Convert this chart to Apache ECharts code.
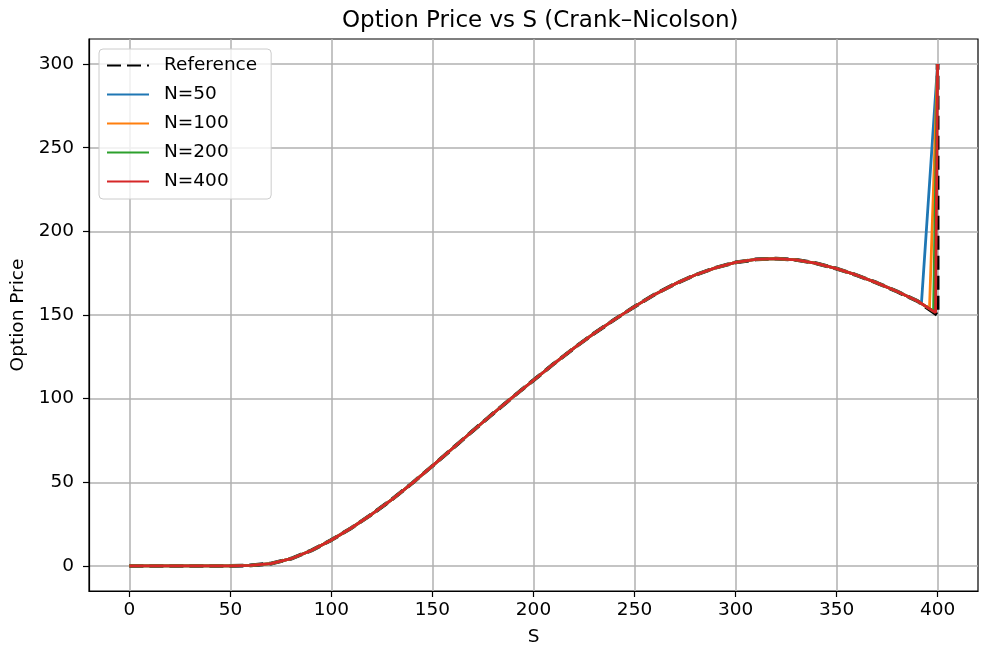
<!DOCTYPE html>
<html>
<head>
<meta charset="utf-8">
<title>Option Price vs S</title>
<script src="https://cdn.jsdelivr.net/npm/echarts@6/dist/echarts.min.js"></script>
<style>
  html, body { margin: 0; padding: 0; background: #fff; }
  #chart { width: 987px; height: 656px; }
</style>
</head>
<body>
<div id="chart"></div>
<script>
// S grid and prices (shared smooth part of all curves)
var sGrid = [0, 10, 20, 30, 40, 50, 60, 70, 80, 90, 100, 110, 120, 130, 140, 150, 160, 170, 180, 190, 200,
  210, 220, 230, 240, 250, 260, 270, 280, 290, 300, 310, 320, 330, 340, 350, 360, 370, 380, 390]
var curvePrice = [0, 0, 0, 0, 0, 0, 0.3, 1.4, 4.3, 9.2, 15.5, 22.8, 30.9, 39.8, 49.5, 59.8, 70.3, 80.8, 91.1, 101.2, 111,
  120.8, 130.2, 139.0, 147.2, 155.0, 162.3, 168.6, 173.9, 178.2, 181.4, 183.2, 183.7, 182.9, 180.9, 177.7, 173.8, 169.2, 164.0, 158.4]

// last grid points of each run (the jump at S = 400)
var refTailS = [400, 400]
var refTailV = [150, 300]
var n50TailS = [392, 400]
var n50TailV = [156.8, 300]
var n100TailS = [396, 400]
var n100TailV = [153.8, 300]
var n200TailS = [398, 400]
var n200TailV = [152.2, 300]
var n400TailS = [399, 400]
var n400TailV = [151.4, 300]

var xTicks = [0, 50, 100, 150, 200, 250, 300, 350, 400]
var yTicks = [0, 50, 100, 150, 200, 250, 300]

function buildData (tailS, tailV) {
  var out = []
  for (var i = 0; i < sGrid.length; i++) {
    if (sGrid[i] < tailS[0]) out.push([sGrid[i], curvePrice[i]])
  }
  for (var j = 0; j < tailS.length; j++) out.push([tailS[j], tailV[j]])
  return out
}

var FONT = 'DejaVu Sans'

var myChart = echarts.init(document.getElementById('chart'), null, { renderer: 'canvas' })

var Option = {
  animation: false,
  title: {
    text: 'Option Price vs S (Crank\u2013Nicolson)',
    left: 337,
    top: 5,
    textStyle: { fontFamily: FONT, fontSize: 23, fontWeight: 'normal', color: '#000' }
  },
  legend: {
    orient: 'vertical',
    left: 99,
    top: 49,
    padding: [6, 14, 7, 7],
    itemWidth: 42,
    itemHeight: 14,
    itemGap: 8,
    backgroundColor: 'rgba(255,255,255,0.8)',
    borderColor: '#cccccc',
    borderWidth: 1,
    borderRadius: 4,
    itemStyle: { opacity: 0 }, // 只显示线, 不显示圆点
    textStyle: { fontFamily: FONT, fontSize: 18.5, color: '#000', lineHeight: 21, padding: [0, 0, 0, 10] },
    data: ['Reference', 'N=50', 'N=100', 'N=200', 'N=400']
  },
  grid: {
    left: 89,
    right: 9,
    top: 39,
    bottom: 65,
    show: true,
    borderColor: '#000',
    borderWidth: 1.2,
    backgroundColor: '#fff'
  },
  xAxis: {
    type: 'value',
    min: -20,
    max: 420,
    name: 'S',
    nameLocation: 'middle',
    nameGap: 37,
    nameTextStyle: { fontFamily: FONT, fontSize: 18.5, color: '#000' },
    axisLine: { show: true, onZero: false, lineStyle: { color: '#000', width: 1.2 } },
    axisTick: { show: true, length: 6, inside: false, customValues: xTicks, lineStyle: { color: '#000', width: 1.2 } },
    axisLabel: { customValues: xTicks, margin: 10, fontFamily: FONT, fontSize: 18.5, color: '#000' },
    splitLine: { show: true, lineStyle: { color: '#b0b0b0', width: 1.5 } }
  },
  yAxis: {
    type: 'value',
    min: -15,
    max: 315,
    name: 'Option Price',
    nameLocation: 'middle',
    nameGap: 60,
    nameTextStyle: { fontFamily: FONT, fontSize: 18.5, color: '#000' },
    axisLine: { show: true, onZero: false, lineStyle: { color: '#000', width: 1.2 } },
    axisTick: { show: true, length: 6, inside: false, customValues: yTicks, lineStyle: { color: '#000', width: 1.2 } },
    axisLabel: { customValues: yTicks, margin: 15, fontFamily: FONT, fontSize: 18.5, color: '#000' },
    splitLine: { show: true, lineStyle: { color: '#b0b0b0', width: 1.5 } }
  },
  series: [
    {
      name: 'Reference',
      type: 'line',
      symbol: 'none',
      lineStyle: { color: '#000', width: 3.8, type: [14, 6] },
      itemStyle: { color: '#000' },
      data: buildData(refTailS, refTailV)
    },
    {
      name: 'N=50',
      type: 'line',
      symbol: 'none',
      lineStyle: { color: '#1f77b4', width: 2.8 },
      itemStyle: { color: '#1f77b4' },
      data: buildData(n50TailS, n50TailV)
    },
    {
      name: 'N=100',
      type: 'line',
      symbol: 'none',
      lineStyle: { color: '#ff7f0e', width: 2.8 },
      itemStyle: { color: '#ff7f0e' },
      data: buildData(n100TailS, n100TailV)
    },
    {
      name: 'N=200',
      type: 'line',
      symbol: 'none',
      lineStyle: { color: '#2ca02c', width: 2.8 },
      itemStyle: { color: '#2ca02c' },
      data: buildData(n200TailS, n200TailV)
    },
    {
      name: 'N=400',
      type: 'line',
      symbol: 'none',
      lineStyle: { color: '#d62728', width: 2.8 },
      itemStyle: { color: '#d62728' },
      data: buildData(n400TailS, n400TailV)
    }
  ]
}

myChart.setOption(Option)
</script>
</body>
</html>
